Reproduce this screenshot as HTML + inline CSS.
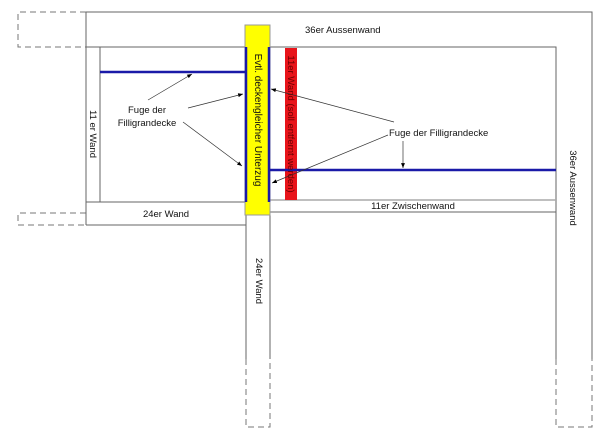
<!DOCTYPE html>
<html><head><meta charset="utf-8"><style>
html,body{margin:0;padding:0;background:#fff;width:600px;height:444px;overflow:hidden}
svg text{font-family:"Liberation Sans",sans-serif;font-size:9.5px;fill:#111}
</style></head><body>
<svg width="600" height="444" viewBox="0 0 600 444" xmlns="http://www.w3.org/2000/svg">
<defs><marker id="a" viewBox="0 0 10 10" refX="10" refY="5" markerWidth="7" markerHeight="7" orient="auto"><path d="M0,1 L10,5 L0,9 z" fill="#000"/></marker></defs>
<g fill="none" stroke="#666" stroke-width="1">
<g stroke-dasharray="6,4" stroke="#777">
<path d="M86,12 H18 V47 H86"/>
<path d="M86,213 H18 V225 H86"/>
<path d="M246,359 V427 H270 V359"/>
<path d="M556,359 V427 H592 V359"/>
</g>
<path d="M86,12 H592 V359"/>
<path d="M86,12 V225"/>
<path d="M86,47 H556 V359"/>
<path d="M100,47 V202"/>
<path d="M86,202 H246"/>
<path d="M86,225 H246"/>
<path d="M246,202 V359"/>
<path d="M270,202 V359"/>
<path d="M270,200 H556" stroke="#aaa" stroke-width="1.5"/>
<path d="M270,212 H556"/>
</g>
<rect x="245" y="25" width="25" height="190" fill="#ffff00" stroke="#999" stroke-width="1"/>
<rect x="285" y="48" width="12" height="152" fill="#e8141a"/>
<g stroke="#1a1aa8" stroke-width="2.5">
<line x1="246" y1="47" x2="246" y2="202"/>
<line x1="269" y1="47" x2="269" y2="202"/>
<line x1="100" y1="72" x2="246" y2="72"/>
<line x1="270" y1="170" x2="556" y2="170"/>
</g>
<g stroke="#333" stroke-width="0.7" marker-end="url(#a)">
<line x1="148" y1="100" x2="192" y2="74"/>
<line x1="188" y1="108" x2="243" y2="94"/>
<line x1="183" y1="122" x2="242" y2="166"/>
<line x1="394" y1="122" x2="271" y2="89"/>
<line x1="388" y1="135" x2="272" y2="183"/>
<line x1="403" y1="141" x2="403" y2="168"/>
</g>
<text x="147" y="113" text-anchor="middle">Fuge der</text>
<text x="147" y="126" text-anchor="middle">Filligrandecke</text>
<text x="389" y="136">Fuge der Filligrandecke</text>
<text x="305" y="33">36er Aussenwand</text>
<text x="166" y="217" text-anchor="middle">24er Wand</text>
<text x="413" y="209" text-anchor="middle">11er Zwischenwand</text>
<text transform="translate(90,134) rotate(90)" text-anchor="middle">11 er Wand</text>
<text transform="translate(255,120) rotate(90)" text-anchor="middle" style="font-size:10px">Evtl. deckengleicher Unterzug</text>
<text transform="translate(288,124) rotate(90)" text-anchor="middle" style="fill:#6a0000">11er Wand (soll entfernt werden)</text>
<text transform="translate(256,281) rotate(90)" text-anchor="middle">24er Wand</text>
<text transform="translate(570,188) rotate(90)" text-anchor="middle">36er Aussenwand</text>
</svg>
</body></html>
